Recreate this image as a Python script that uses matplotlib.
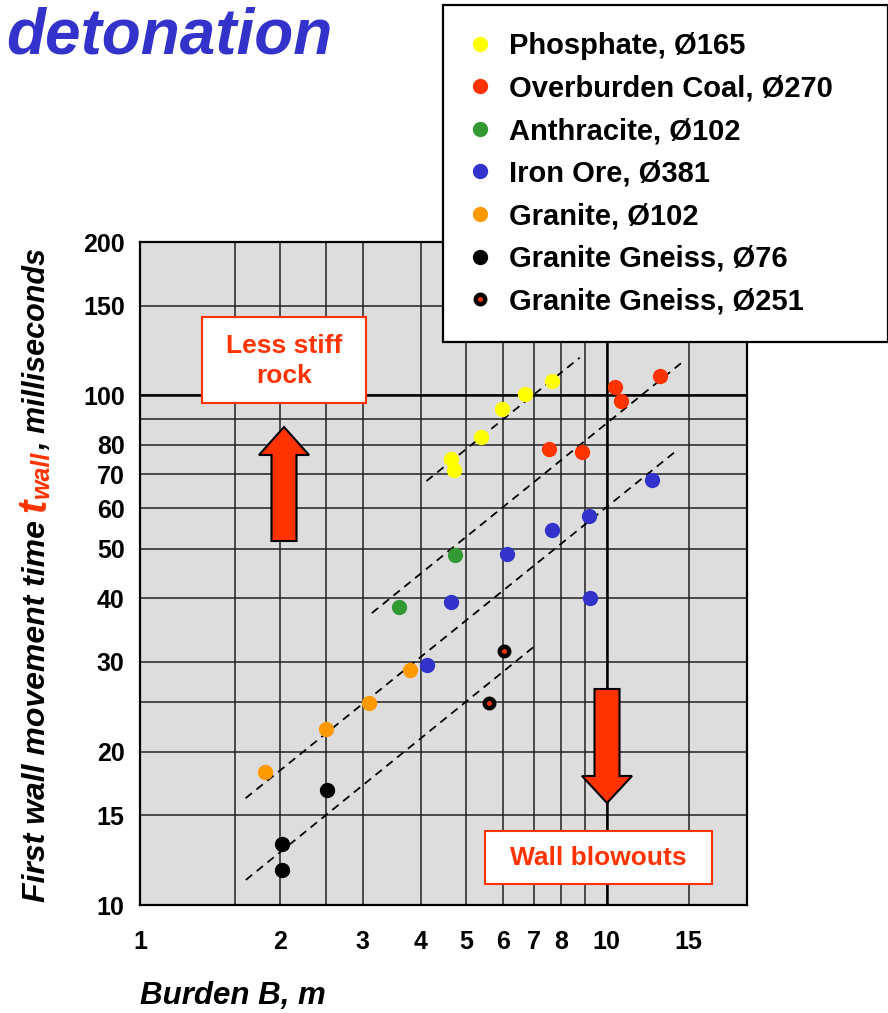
from matplotlib import pyplot as plt
from matplotlib.patches import FancyArrow, Rectangle

# burden B (m) and first wall movement time (ms) per rock type
phosphate_b = [4.63, 4.70, 5.39, 5.98, 6.70, 7.63]
phosphate_t = [74.9, 71.3, 82.8, 94.0, 100.6, 106.7]

coal_b = [7.51, 8.84, 10.42, 10.75, 13.03]
coal_t = [78.4, 77.3, 103.7, 97.7, 109.0]

anthracite_b = [3.59, 4.73]
anthracite_t = [38.5, 48.7]

iron_b = [4.12, 4.63, 6.12, 7.63, 9.18, 9.21, 12.5]
iron_t = [29.6, 39.3, 48.8, 54.5, 58.1, 40.0, 68.2]

granite_b = [1.85, 2.51, 3.09, 3.79]
granite_t = [18.2, 22.1, 24.9, 28.9]

gneiss76_b = [2.02, 2.02, 2.52]
gneiss76_t = [11.7, 13.2, 16.8]

gneiss251_b = [5.61, 6.03]
gneiss251_t = [24.9, 31.5]

# dashed trend lines (start, end)
trend_b = [[4.11, 8.76], [3.14, 14.45], [1.684, 14.05], [1.686, 7.01]]
trend_t = [[67.9, 118.6], [37.4, 115.7], [16.2, 77.6], [11.2, 32.2]]

x_ticks = [1, 2, 3, 4, 5, 6, 7, 8, 10, 15]
x_minor = [1.6, 2.5, 9]
y_ticks = [10, 15, 20, 30, 40, 50, 60, 70, 80, 100, 150, 200]
y_minor = [25, 90]

W, H = 888, 1013
RED = "#FF3300"


def main():
    plt.rcParams['font.family'] = ['Liberation Sans', 'DejaVu Sans']
    fig = plt.figure(figsize=(W / 100, H / 100), dpi=100)
    ax = fig.add_axes([140 / W, 1 - 905 / H, 607 / W, 663 / H])
    ax.set_facecolor("#DDDDDD")
    ax.set_xscale("log")
    ax.set_yscale("log")
    ax.set_xlim(1, 20)
    ax.set_ylim(10, 200)

    ax.set_xticks(x_ticks)
    ax.set_xticklabels([str(v) for v in x_ticks])
    ax.set_xticks(x_minor, minor=True)
    ax.set_yticks(y_ticks)
    ax.set_yticklabels([str(v) for v in y_ticks])
    ax.set_yticks(y_minor, minor=True)
    ax.tick_params(which="both", length=0)
    ax.tick_params(axis="y", pad=11)
    ax.tick_params(axis="x", pad=18)
    for lab in ax.get_xticklabels() + ax.get_yticklabels():
        lab.set_fontsize(18)
        lab.set_fontweight("bold")
    ax.xaxis.set_minor_formatter(plt.NullFormatter())
    ax.yaxis.set_minor_formatter(plt.NullFormatter())
    ax.grid(which="both", color="#222222", linewidth=1.1)
    ax.axvline(10, color="black", linewidth=1.8)
    ax.axhline(100, color="black", linewidth=1.8)
    ax.set_axisbelow(True)
    for s in ax.spines.values():
        s.set_linewidth(1.6)

    for xs, ys in zip(trend_b, trend_t):
        ax.plot(xs, ys, color="black", linestyle="--", dashes=(4.5, 3.2), linewidth=1.3, zorder=2)

    ax.plot(phosphate_b, phosphate_t, "o", color="#FFFF00", ms=10, label="Phosphate, Ø165", zorder=3)
    ax.plot(coal_b, coal_t, "o", color=RED, ms=10, label="Overburden Coal, Ø270", zorder=3)
    ax.plot(anthracite_b, anthracite_t, "o", color="#339933", ms=10, label="Anthracite, Ø102", zorder=3)
    ax.plot(iron_b, iron_t, "o", color="#3333CC", ms=10, label="Iron Ore, Ø381", zorder=3)
    ax.plot(granite_b, granite_t, "o", color="#FF9900", ms=10, label="Granite, Ø102", zorder=3)
    ax.plot(gneiss76_b, gneiss76_t, "o", color="black", ms=10, label="Granite Gneiss, Ø76", zorder=3)
    ax.plot(gneiss251_b, gneiss251_t, "o", mfc=RED, mec="black", ms=6.8, mew=3.2,
            label="Granite Gneiss, Ø251", zorder=3)

    leg = ax.legend(loc="upper left", bbox_to_anchor=(443 / W, 1 - 341 / H, 445 / W, 336 / H),
                    bbox_transform=fig.transFigure, mode="expand", borderaxespad=0,
                    prop={"size": 21, "weight": "bold"}, handlelength=0.7, handletextpad=0.65,
                    borderpad=0.92, labelspacing=0.5, fancybox=False, framealpha=1,
                    edgecolor="black")
    leg.get_frame().set_linewidth(1.6)
    leg.set_zorder(10)

    # title fragment
    fig.text(6 / W, 1 - 53 / H, "detonation", fontsize=46, fontweight="bold",
             fontstyle="italic", color="#3333CC", ha="left", va="baseline")

    # x label
    fig.text(140 / W, 1 - 1004 / H, "Burden B, m", fontsize=22.5, fontweight="bold",
             fontstyle="italic", ha="left", va="baseline")

    # y label built from pieces so t_wall can be red
    r = fig.canvas.get_renderer()
    pieces = [("First wall movement time", 23, "black", 0, 0),
              ("t", 29, RED, 0, 8),
              ("wall", 18, RED, 4, 1),
              (", milliseconds", 22, "black", 0, 0)]
    y = H - 902
    for txt, size, color, dx, gap in pieces:
        y += gap
        t = fig.text((45 + dx) / W, y / H, txt, rotation=90, rotation_mode="anchor",
                     ha="left", va="baseline", fontsize=size, color=color,
                     fontweight="bold", fontstyle="italic")
        y += t.get_window_extent(renderer=r).height

    # annotation boxes
    fig.add_artist(Rectangle((202 / W, 1 - 403 / H), 164 / W, 86 / H, transform=fig.transFigure,
                             facecolor="white", edgecolor=RED, linewidth=1.5, zorder=5))
    fig.text(284 / W, 1 - 361 / H, "Less stiff\nrock", color=RED, fontsize=19, fontweight="bold",
             ha="center", va="center", linespacing=1.35, zorder=6)
    fig.add_artist(Rectangle((485 / W, 1 - 884 / H), 227 / W, 53 / H, transform=fig.transFigure,
                             facecolor="white", edgecolor=RED, linewidth=1.5, zorder=5))
    fig.text(598 / W, 1 - 858 / H, "Wall blowouts", color=RED, fontsize=19, fontweight="bold",
             ha="center", va="center", zorder=6)

    # arrows
    fig.add_artist(FancyArrow(284 / W, 1 - 541 / H, 0, 114 / H, width=25 / W, head_width=50 / W,
                              head_length=28 / H, length_includes_head=True, transform=fig.transFigure,
                              facecolor=RED, edgecolor="black", linewidth=1.5, zorder=5))
    fig.add_artist(FancyArrow(607 / W, 1 - 689 / H, 0, -114 / H, width=25 / W, head_width=50 / W,
                              head_length=27 / H, length_includes_head=True, transform=fig.transFigure,
                              facecolor=RED, edgecolor="black", linewidth=1.5, zorder=5))

    plt.savefig("out.png", dpi=100)


if __name__ == '__main__':
    main()
